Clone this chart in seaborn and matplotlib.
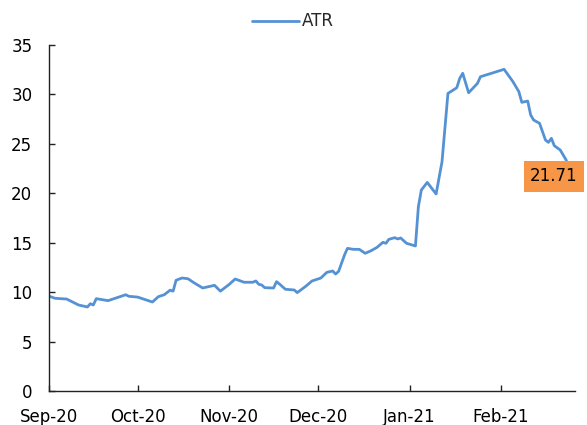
import pandas as pd
import numpy as np
import matplotlib
matplotlib.use("Agg")
import matplotlib.pyplot as plt
import matplotlib.dates as mdates
import seaborn as sns

dates = [
    "2020-09-01", "2020-09-03", "2020-09-07", "2020-09-11", "2020-09-14", "2020-09-15",
    "2020-09-16", "2020-09-17", "2020-09-21", "2020-09-27", "2020-09-28", "2020-10-01",
    "2020-10-06", "2020-10-08", "2020-10-10", "2020-10-12", "2020-10-13", "2020-10-14",
    "2020-10-16", "2020-10-18", "2020-10-20", "2020-10-23", "2020-10-27", "2020-10-29",
    "2020-11-01", "2020-11-03", "2020-11-06", "2020-11-09", "2020-11-10", "2020-11-11",
    "2020-11-12", "2020-11-13", "2020-11-16", "2020-11-17", "2020-11-18", "2020-11-20",
    "2020-11-23", "2020-11-24", "2020-11-27", "2020-11-29", "2020-12-02", "2020-12-04",
    "2020-12-06", "2020-12-07", "2020-12-08", "2020-12-10", "2020-12-11", "2020-12-13",
    "2020-12-15", "2020-12-17", "2020-12-19", "2020-12-21", "2020-12-23", "2020-12-24",
    "2020-12-25", "2020-12-27", "2020-12-28", "2020-12-29", "2020-12-31", "2021-01-03",
    "2021-01-04", "2021-01-05", "2021-01-07", "2021-01-10", "2021-01-12", "2021-01-14",
    "2021-01-17", "2021-01-18", "2021-01-19", "2021-01-21", "2021-01-24", "2021-01-25",
    "2021-01-28", "2021-02-02", "2021-02-05", "2021-02-07", "2021-02-08", "2021-02-10",
    "2021-02-11", "2021-02-12", "2021-02-14", "2021-02-16", "2021-02-17", "2021-02-18",
    "2021-02-19", "2021-02-21", "2021-02-23", "2021-02-25",
]
atr = [
    9.60, 9.38, 9.30, 8.70, 8.50, 8.83,
    8.70, 9.34, 9.14, 9.74, 9.58, 9.50,
    9.00, 9.54, 9.74, 10.20, 10.10, 11.20,
    11.43, 11.36, 10.96, 10.42, 10.69, 10.10,
    10.79, 11.33, 11.00, 11.00, 11.13, 10.79,
    10.72, 10.45, 10.42, 11.06, 10.82, 10.29,
    10.22, 9.95, 10.62, 11.13, 11.43, 12.00,
    12.14, 11.83, 12.10, 13.76, 14.43, 14.33,
    14.33, 13.93, 14.19, 14.53, 15.04, 14.94,
    15.34, 15.51, 15.38, 15.48, 14.94, 14.67,
    18.64, 20.33, 21.10, 19.93, 23.20, 30.10,
    30.68, 31.63, 32.14, 30.17, 31.12, 31.79,
    32.07, 32.54, 31.29, 30.28, 29.20, 29.33,
    27.92, 27.41, 27.08, 25.39, 25.15, 25.56,
    24.81, 24.38, 23.37, 21.71,
]
yticks = [0, 5, 10, 15, 20, 25, 30, 35]
series_name = "ATR"
last_label = "21.71"

df = pd.DataFrame({"date": pd.to_datetime(dates), "value": atr})

sns.set_theme(style="white")
plt.rcParams["font.family"] = ["DejaVu Sans"]

fig = plt.figure(figsize=(5.87, 4.25), dpi=100)
ax = fig.add_axes([49 / 587, 1 - 391 / 425, (575 - 49) / 587, (391 - 45) / 425])

sns.lineplot(data=df, x="date", y="value", ax=ax, color="#5592D4", linewidth=2.0, label=series_name)

ax.set_xlim(pd.Timestamp("2020-09-01"), pd.Timestamp("2021-02-26"))
ax.set_ylim(0, 35)
ax.set_yticks(yticks)
ax.xaxis.set_major_locator(mdates.MonthLocator())
ax.xaxis.set_major_formatter(mdates.DateFormatter("%b-%y"))
ax.set_xlabel("")
ax.set_ylabel("")

for s in ["top", "right"]:
    ax.spines[s].set_visible(False)
for s in ["left", "bottom"]:
    ax.spines[s].set_color("#222222")
    ax.spines[s].set_linewidth(1.0)

ax.tick_params(axis="both", direction="in", length=4, width=1, color="#222222",
               labelsize=12, labelcolor="black", pad=12, bottom=True, left=True)

leg = ax.legend(loc="center", bbox_to_anchor=(0.464, 1.068), frameon=False,
                fontsize=12, handlelength=2.8, handletextpad=0.2, borderaxespad=0)

ax.annotate(last_label, xy=(df["date"].iloc[-1], df["value"].iloc[-1]),
            xytext=(-13, 0), textcoords="offset points", ha="center", va="center",
            fontsize=12, color="black", annotation_clip=False,
            bbox=dict(boxstyle="square,pad=0.38", fc="#F79646", ec="none"))

fig.savefig("out.png", dpi=100)
